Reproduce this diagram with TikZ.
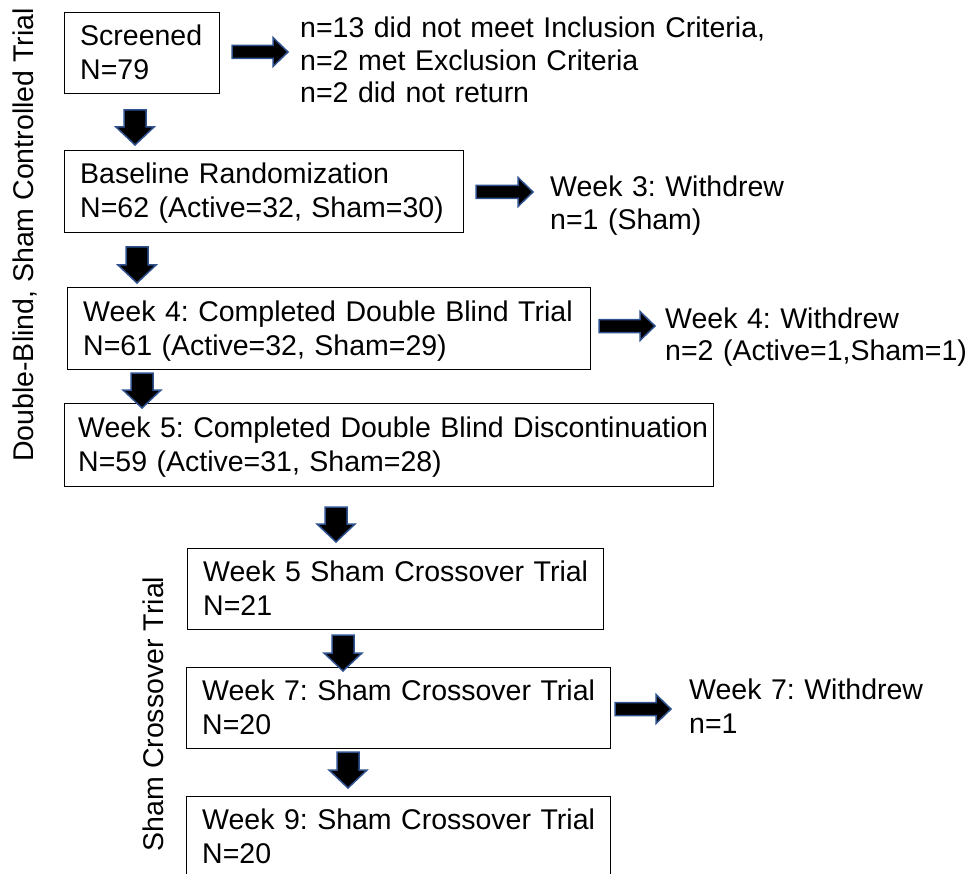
\documentclass[tikz,border=0pt]{standalone}
\usepackage{fontspec}
\setmainfont{Liberation Sans}
\definecolor{arrowblue}{HTML}{2F528F}
\newcommand\dnarrow[3]{% x, ytop, ybottom
  \draw[barrow] (#1-11,#2) -- (#1+11,#2) -- (#1+11,#3-18) -- (#1+19,#3-18) -- (#1,#3)
    -- (#1-19,#3-18) -- (#1-11,#3-18) -- cycle;}
\newcommand\rtarrow[3]{% ycenter, xleft, xright
  \draw[barrow] (#2,#1-6.5) -- (#3-15,#1-6.5) -- (#3-15,#1-14.5) -- (#3,#1)
    -- (#3-15,#1+14.5) -- (#3-15,#1+6.5) -- (#2,#1+6.5) -- cycle;}
\frenchspacing
\begin{document}
\begin{tikzpicture}[x=1pt,y=-1pt,
  box/.style={draw=black, line width=1.3pt, rectangle, anchor=north west, inner sep=0pt},
  txt/.style={anchor=base west, inner sep=0pt, align=left, text width=700pt,
    font=\fontsize{28.5}{34}\selectfont\frenchspacing},
  side/.style={txt, font=\fontsize{28.5}{32.5}\selectfont\frenchspacing},
  vlab/.style={rotate=90, anchor=base, inner sep=0pt, font=\fontsize{28.5}{34}\selectfont},
  barrow/.style={fill=black, draw=arrowblue, line width=1.5pt, line join=miter}]
\useasboundingbox (0,0) rectangle (973,874);
\clip (0,0) rectangle (973,874);

% vertical labels
\node[vlab] (lab1) at (33,235) {Double-Blind, Sham Controlled Trial};
\node[vlab] (lab2) at (163,714) {Sham Crossover Trial};

% boxes
\node[box, minimum width=155pt, minimum height=81pt] (b1) at (64,12) {};
\node[box, minimum width=399pt, minimum height=82pt] (b2) at (64,150) {};
\node[box, minimum width=523pt, minimum height=82pt] (b3) at (67,287) {};
\node[box, minimum width=649pt, minimum height=83pt] (b4) at (64,403) {};
\node[box, minimum width=416pt, minimum height=81pt] (b5) at (187,548) {};
\node[box, minimum width=424pt, minimum height=81pt] (b6) at (186,667) {};
\node[box, minimum width=424pt, minimum height=110pt] (b7) at (186,796) {};

% box texts
\node[txt] (t1) at ([shift={(16,34)}]b1.north west) {Screened\\N=79};
\node[txt] (t2) at ([shift={(16,34)}]b2.north west) {Baseline Randomization\\N=62 (Active=32, Sham=30)};
\node[txt] (t3) at ([shift={(16,34)}]b3.north west) {Week 4: Completed Double Blind Trial\\N=61 (Active=32, Sham=29)};
\node[txt] (t4) at ([shift={(14,34)}]b4.north west) {Week 5: Completed Double Blind Discontinuation\\N=59 (Active=31, Sham=28)};
\node[txt] (t5) at ([shift={(16,33)}]b5.north west) {Week 5 Sham Crossover Trial\\N=21};
\node[txt] (t6) at ([shift={(16,33)}]b6.north west) {Week 7: Sham Crossover Trial\\N=20};
\node[txt] (t7) at ([shift={(16,33)}]b7.north west) {Week 9: Sham Crossover Trial\\N=20};

% side texts
\node[side] (s1) at (300,38) {n=13 did not meet Inclusion Criteria,\\n=2 met Exclusion Criteria\\n=2 did not return};
\node[side] (s2) at (550,197) {Week 3: Withdrew\\n=1 (Sham)};
\node[side] (s3) at (665,328) {Week 4: Withdrew\\n=2 (Active=1,Sham=1)};
\node[txt] (s4) at (689,699) {Week 7: Withdrew\\n=1};

% block arrows
\dnarrow{135}{110}{145}
\dnarrow{137}{247}{283}
\dnarrow{142}{373}{408}
\dnarrow{336}{507}{542}
\dnarrow{343}{635}{671}
\dnarrow{348}{752}{788}
\rtarrow{52}{232}{288}
\rtarrow{192}{476}{533}
\rtarrow{326}{599}{655}
\rtarrow{709}{615}{671}
\end{tikzpicture}
\end{document}
